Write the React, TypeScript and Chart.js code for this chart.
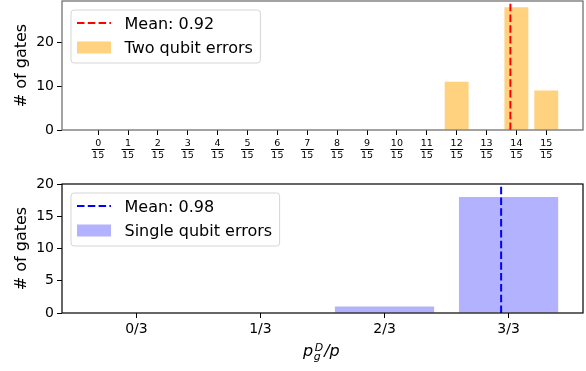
import React, { useEffect, useRef } from "react";
import { Chart, registerables } from "chart.js";

Chart.register(...registerables);

// ---- Data ----
const twoQubitNumerators = [0, 1, 2, 3, 4, 5, 6, 7, 8, 9, 10, 11, 12, 13, 14, 15];
const twoQubitDenominator = 15;
const twoQubitCounts = [0, 0, 0, 0, 0, 0, 0, 0, 0, 0, 0, 0, 11, 0, 28, 9];
const twoQubitMean = 0.92;

const singleQubitNumerators = [0, 1, 2, 3];
const singleQubitDenominator = 3;
const singleQubitCounts = [0, 0, 1, 18];
const singleQubitMean = 0.98;

const topYTicks = [0, 10, 20];
const bottomYTicks = [0, 5, 10, 15, 20];

const FONT = "'DejaVu Sans', sans-serif";

type LegendCfg = {
  lineLabel: string;
  lineColor: string;
  barLabel: string;
  barColor: string;
};

function drawLegend(chart: any, cfg: LegendCfg) {
  const ctx = chart.ctx as CanvasRenderingContext2D;
  const area = chart.chartArea;
  const bx = area.left + 9;
  const by = area.top + 9;
  ctx.save();
  ctx.font = `16px ${FONT}`;
  const tw = Math.max(ctx.measureText(cfg.lineLabel).width, ctx.measureText(cfg.barLabel).width);
  const bw = 53.5 + tw + 7.5;
  const bh = 53;
  const r = 3;
  ctx.beginPath();
  ctx.moveTo(bx + r, by);
  ctx.lineTo(bx + bw - r, by);
  ctx.quadraticCurveTo(bx + bw, by, bx + bw, by + r);
  ctx.lineTo(bx + bw, by + bh - r);
  ctx.quadraticCurveTo(bx + bw, by + bh, bx + bw - r, by + bh);
  ctx.lineTo(bx + r, by + bh);
  ctx.quadraticCurveTo(bx, by + bh, bx, by + bh - r);
  ctx.lineTo(bx, by + r);
  ctx.quadraticCurveTo(bx, by, bx + r, by);
  ctx.closePath();
  ctx.fillStyle = "rgba(255,255,255,0.8)";
  ctx.fill();
  ctx.strokeStyle = "#d5d5d5";
  ctx.lineWidth = 1;
  ctx.stroke();

  const r1 = by + 13;
  const r2 = by + 37.5;
  ctx.beginPath();
  ctx.setLineDash([7.5, 3.3]);
  ctx.strokeStyle = cfg.lineColor;
  ctx.lineWidth = 2;
  ctx.moveTo(bx + 6, r1);
  ctx.lineTo(bx + 40, r1);
  ctx.stroke();
  ctx.setLineDash([]);
  ctx.fillStyle = cfg.barColor;
  ctx.fillRect(bx + 6, r2 - 6, 34, 12);
  ctx.fillStyle = "#000";
  ctx.textBaseline = "alphabetic";
  ctx.textAlign = "left";
  ctx.fillText(cfg.lineLabel, bx + 53.5, r1 + 5.8);
  ctx.fillText(cfg.barLabel, bx + 53.5, r2 + 5.8);
  ctx.restore();
}

function drawFrame(chart: any, color: string) {
  const ctx = chart.ctx as CanvasRenderingContext2D;
  const a = chart.chartArea;
  ctx.save();
  ctx.strokeStyle = color;
  ctx.lineWidth = 1.2;
  ctx.strokeRect(a.left, a.top, a.right - a.left, a.bottom - a.top);
  ctx.restore();
}

function makeChart(
  canvas: HTMLCanvasElement,
  opts: {
    numerators: number[];
    counts: number[];
    mean: number;
    denom: number;
    xMin: number;
    xMax: number;
    yMax: number;
    yTicks: number[];
    barColor: string;
    lineColor: string;
    lineLabel: string;
    barLabel: string;
    padTop: number;
    xHeight: number;
    frameColor: string;
    fraction: boolean;
    xTitle: boolean;
  }
) {
  const meanX = opts.mean * opts.denom;
  const plugin = {
    id: "custom" + (opts.fraction ? "Top" : "Bottom"),
    afterDraw(chart: any) {
      drawFrame(chart, opts.frameColor);
      const ctx = chart.ctx as CanvasRenderingContext2D;
      const xs = chart.scales.x;
      if (opts.fraction) {
        ctx.save();
        ctx.strokeStyle = "#000";
        ctx.lineWidth = 1;
        const y = chart.chartArea.bottom + 19.5;
        opts.numerators.forEach((n) => {
          const px = xs.getPixelForValue(n);
          ctx.beginPath();
          ctx.moveTo(px - 6.5, y);
          ctx.lineTo(px + 6.5, y);
          ctx.stroke();
        });
        ctx.restore();
      }
      if (opts.xTitle) {
        ctx.save();
        ctx.fillStyle = "#000";
        ctx.textBaseline = "alphabetic";
        ctx.textAlign = "left";
        const base = chart.chartArea.bottom + 43;
        let x = 303;
        ctx.font = `italic 16px ${FONT}`;
        ctx.fillText("p", x, base);
        x += ctx.measureText("p").width;
        ctx.font = `italic 11px ${FONT}`;
        ctx.fillText("g", x + 0.5, base + 4);
        ctx.fillText("D", x + 1.5, base - 5);
        x += ctx.measureText("D").width + 2.5;
        ctx.font = `italic 16px ${FONT}`;
        ctx.fillText("/p", x, base);
        ctx.restore();
      }
      drawLegend(chart, {
        lineLabel: opts.lineLabel,
        lineColor: opts.lineColor,
        barLabel: opts.barLabel,
        barColor: opts.barColor,
      });
    },
  };

  return new Chart(canvas, {
    type: "bar",
    data: {
      datasets: [
        {
          type: "line",
          label: opts.lineLabel,
          data: [
            { x: meanX, y: 0 },
            { x: meanX, y: opts.yMax },
          ],
          borderColor: opts.lineColor,
          borderWidth: 2,
          borderDash: [7.5, 3.3],
          pointRadius: 0,
          fill: false,
          order: 0,
        } as any,
        {
          type: "bar",
          label: opts.barLabel,
          data: opts.numerators.map((n, i) => ({ x: n, y: opts.counts[i] })),
          backgroundColor: opts.barColor,
          borderWidth: 0,
          barPercentage: 0.8,
          categoryPercentage: 1.0,
          order: 1,
        } as any,
      ],
    },
    options: {
      responsive: false,
      animation: false,
      devicePixelRatio: 1,
      layout: { padding: { top: opts.padTop, right: 3, left: 0, bottom: 0 } },
      plugins: {
        legend: { display: false },
        tooltip: { enabled: false },
      },
      scales: {
        x: {
          type: "linear",
          offset: false,
          min: opts.xMin,
          max: opts.xMax,
          afterBuildTicks: (s: any) => {
            s.ticks = opts.numerators.map((v) => ({ value: v }));
          },
          afterFit: (s: any) => {
            s.height = opts.xHeight;
            s.paddingLeft = 0;
            s.paddingRight = 0;
          },
          border: { display: false },
          grid: {
            display: true,
            offset: false,
            drawOnChartArea: false,
            drawTicks: true,
            tickLength: 5,
            color: "#000",
            lineWidth: 1,
          },
          ticks: {
            autoSkip: false,
            maxRotation: 0,
            minRotation: 0,
            color: "#000",
            padding: 3,
            font: opts.fraction
              ? { family: FONT, size: 9.5, lineHeight: 1.22 }
              : { family: FONT, size: 14, lineHeight: 1.2 },
            callback: (v: any) =>
              opts.fraction ? [String(v), String(opts.denom)] : `${v}/${opts.denom}`,
          },
        },
        y: {
          type: "linear",
          min: 0,
          max: opts.yMax,
          afterBuildTicks: (s: any) => {
            s.ticks = opts.yTicks.map((v) => ({ value: v }));
          },
          afterFit: (s: any) => {
            s.width = 62;
            s.paddingTop = 0;
            s.paddingBottom = 0;
          },
          border: { display: false },
          grid: {
            display: true,
            drawOnChartArea: false,
            drawTicks: true,
            tickLength: 5,
            color: "#000",
            lineWidth: 1,
          },
          ticks: {
            color: "#000",
            padding: 3,
            font: { family: FONT, size: 14 },
            callback: (v: any) => String(v),
          },
          title: {
            display: true,
            text: "# of gates",
            color: "#000",
            font: { family: FONT, size: 16, lineHeight: 1.2 },
            padding: { top: 12, bottom: 0 },
          },
        },
      },
    },
    plugins: [plugin],
  } as any);
}

export default function App() {
  const topRef = useRef<HTMLCanvasElement>(null);
  const botRef = useRef<HTMLCanvasElement>(null);

  useEffect(() => {
    const c1 = makeChart(topRef.current!, {
      numerators: twoQubitNumerators,
      counts: twoQubitCounts,
      mean: twoQubitMean,
      denom: twoQubitDenominator,
      xMin: -1.21,
      xMax: 16.23,
      yMax: 29.4,
      yTicks: topYTicks,
      barColor: "rgba(255,165,0,0.5)",
      lineColor: "#ff0000",
      lineLabel: `Mean: ${twoQubitMean.toFixed(2)}`,
      barLabel: "Two qubit errors",
      padTop: 1,
      xHeight: 40,
      frameColor: "#666",
      fraction: true,
      xTitle: false,
    });
    const c2 = makeChart(botRef.current!, {
      numerators: singleQubitNumerators,
      counts: singleQubitCounts,
      mean: singleQubitMean,
      denom: singleQubitDenominator,
      xMin: -0.6,
      xMax: 3.6,
      yMax: 20,
      yTicks: bottomYTicks,
      barColor: "rgba(0,0,255,0.3)",
      lineColor: "#0000ff",
      lineLabel: `Mean: ${singleQubitMean.toFixed(2)}`,
      barLabel: "Single qubit errors",
      padTop: 14,
      xHeight: 58,
      frameColor: "#000",
      fraction: false,
      xTitle: true,
    });
    return () => {
      c1.destroy();
      c2.destroy();
    };
  }, []);

  return (
    <div
      style={{
        position: "fixed",
        left: 0,
        top: 0,
        width: 586,
        height: 371,
        background: "#fff",
      }}
    >
      <canvas
        ref={topRef}
        width={586}
        height={170}
        style={{ position: "absolute", left: 0, top: 0, width: 586, height: 170 }}
      />
      <canvas
        ref={botRef}
        width={586}
        height={201}
        style={{ position: "absolute", left: 0, top: 170, width: 586, height: 201 }}
      />
    </div>
  );
}
